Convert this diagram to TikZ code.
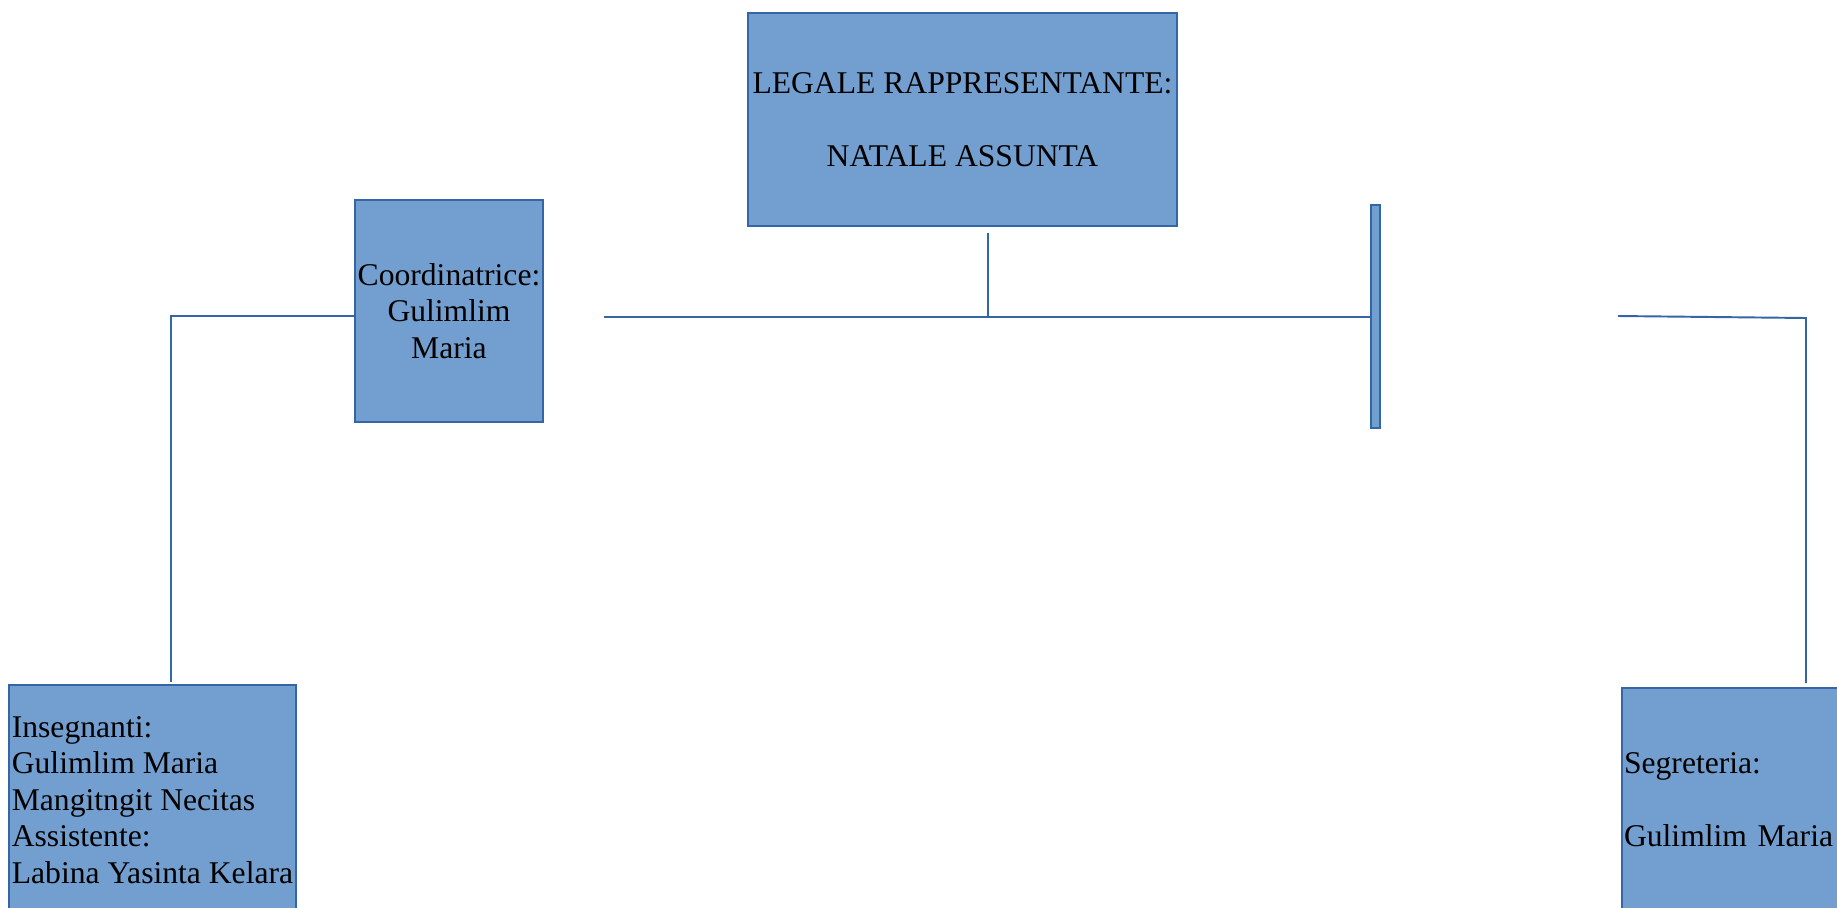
\documentclass[tikz,border=0pt]{standalone}
\usepackage{fontspec}
\setmainfont{Liberation Serif}
\usepackage{xcolor}
\definecolor{boxfill}{RGB}{114,159,207}
\definecolor{boxline}{RGB}{52,101,164}

\begin{document}
\begin{tikzpicture}[x = 0.02cm, y = -0.02cm,
			box/.style = {draw = boxline, fill = boxfill, line width = 1.1pt, inner sep = 0pt,
				font = \fontsize{18}{20.7}\selectfont},
			link/.style = {draw = boxline, line width = 1.1pt}]
			\useasboundingbox (0, 0) rectangle (1837, 907);
			\node[box, minimum width = 8.58cm, minimum height = 4.26cm, align = center] (legale) at (962.5, 119.5)
			{LEGALE RAPPRESENTANTE:\\[20.7pt]NATALE ASSUNTA};
			\node[box, minimum width = 3.76cm, minimum height = 4.44cm, align = center] (coord) at (449, 311)
			{Coordinatrice:\\Gulimlim\\Maria};
			\node[box, minimum width = 0.18cm, minimum height = 4.46cm] (bar) at (1375.5, 316.5) {};
			\node[box, minimum width = 5.74cm, minimum height = 4.6cm, align = left] (teach) at (152.5, 800)
			{Insegnanti:\\Gulimlim Maria\\Mangitngit Necitas\\Assistente:\\Labina Yasinta Kelara};
			\node[box, inner xsep = 0.04cm, text width = 4.32cm, minimum height = 4.48cm, align = left] (secr) at (1732, 800)
			{Segreteria:\\[20.7pt]Gulimlim Maria};
			\coordinate (vtop) at (988, 233);
			\coordinate (hstart) at (604, 317);
			\coordinate (lcorner) at (171, 316);
			\coordinate (rstart) at (1618, 316);
			\coordinate (rcorner) at (1806, 318);
			\draw[link] (vtop) -- (vtop |- hstart);
			\draw[link] (hstart) -- (hstart -| bar.west);
			\draw[link] (lcorner -| coord.west) -- (lcorner) -- ([yshift = 0.04cm]lcorner |- teach.north);
			\draw[link] (rstart) -- (rcorner) -- ([yshift = 0.08cm]rcorner |- secr.north);
			\end{tikzpicture}
\end{document}
